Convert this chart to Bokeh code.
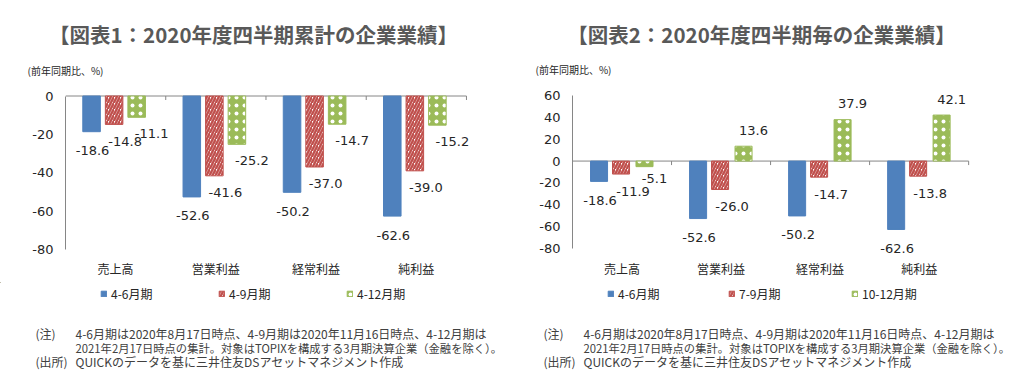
from bokeh.plotting import figure
from bokeh.layouts import row, column
from bokeh.models import Range1d, FixedTicker, Legend, LegendItem
from bokeh.core.properties import value
from bokeh.embed import file_html
from bokeh.resources import INLINE

# ---------------- data ----------------
categories = ["売上高", "営業利益", "経常利益", "純利益"]

c1_title = "【図表1：2020年度四半期累計の企業業績】"
c1_series = ["4-6月期", "4-9月期", "4-12月期"]
c1_q1 = [-18.6, -52.6, -50.2, -62.6]
c1_h1 = [-14.8, -41.6, -37.0, -39.0]
c1_q3 = [-11.1, -25.2, -14.7, -15.2]
c1_yticks = [0, -20, -40, -60, -80]

c2_title = "【図表2：2020年度四半期毎の企業業績】"
c2_series = ["4-6月期", "7-9月期", "10-12月期"]
c2_q1 = [-18.6, -52.6, -50.2, -62.6]
c2_q2 = [-11.9, -26.0, -14.7, -13.8]
c2_q3 = [-5.1, 13.6, 37.9, 42.1]
c2_yticks = [60, 40, 20, 0, -20, -40, -60, -80]

unit_label = "(前年同期比、%)"
note_head = "(注)"
note_line1 = "4-6月期は2020年8月17日時点、4-9月期は2020年11月16日時点、4-12月期は"
note_line2 = "2021年2月17日時点の集計。対象はTOPIXを構成する3月期決算企業（金融を除く）。"
source_head = "(出所)"
source_line = "QUICKのデータを基に三井住友DSアセットマネジメント作成"

# ---------------- style ----------------
W = 1015
H = 377
HEAD_H = 85
FOOT_TOP = 282
FRAME_TOP = 89       # canvas y of both plot frames' top edge
FRAME_BOT = 255      # canvas y of both plot frames' bottom edge
XPAD = 0.15          # extra x room right of the last category (keeps labels unclipped)
JP = "Noto Sans CJK JP"
NUM = "DejaVu Sans"
BLUE = "#4f81bd"
RED = "#c0504d"
GREEN = "#9bbb59"
AXIS = "#868686"
TXT = "#262626"
NOTE = "#404040"

STYLES = [
    dict(fill_color=BLUE, line_color=BLUE),
    dict(fill_color="white", line_color=RED, hatch_pattern="/", hatch_color=RED,
         hatch_scale=6, hatch_weight=2.4),
    dict(fill_color=GREEN, line_color=GREEN, hatch_pattern=".", hatch_color="white",
         hatch_scale=8, hatch_weight=1.0),
]


def blank(width, height, y0, y1):
    p = figure(width=width, height=height, output_backend="svg", toolbar_location=None,
               x_range=Range1d(0, width), y_range=Range1d(y1, y0),
               x_axis_type=None, y_axis_type=None, min_border=0)
    p.outline_line_color = None
    p.grid.visible = False
    return p


def make_chart(width, left, frame_right, ytop_val, ytop_px, ybot_val, ybot_px, yticks,
               series_vals, offsets, bar_w, lab_dx, lab_dy, tick_len):
    n = len(categories)
    # value range chosen so that ytop_val sits at canvas ytop_px and ybot_val at ybot_px
    k = (ybot_px - ytop_px) / (ytop_val - ybot_val)
    ymax = ytop_val + (ytop_px - FRAME_TOP) / k
    ymin = ybot_val - (FRAME_BOT - ybot_px) / k
    kx = (frame_right - left) / n
    right = width - frame_right - int(round(XPAD * kx))
    p = figure(width=width, height=FOOT_TOP - HEAD_H, output_backend="svg",
               toolbar_location=None,
               x_range=Range1d(0, n + XPAD), y_range=Range1d(ymin, ymax),
               min_border_left=left, min_border_right=right,
               min_border_top=FRAME_TOP - HEAD_H, min_border_bottom=FOOT_TOP - FRAME_BOT)
    p.outline_line_color = None
    p.grid.visible = False

    p.yaxis.ticker = FixedTicker(ticks=yticks)
    p.yaxis.major_label_overrides = {t: str(t) for t in yticks}
    p.yaxis.bounds = (ybot_val, ytop_val)
    p.yaxis.axis_line_color = AXIS
    p.yaxis.major_tick_line_color = None
    p.yaxis.minor_tick_line_color = None
    p.yaxis.major_tick_out = 0
    p.yaxis.major_tick_in = 0
    p.yaxis.major_label_standoff = 12
    p.yaxis.major_label_text_font = NUM
    p.yaxis.major_label_text_font_size = "13px"
    p.yaxis.major_label_text_color = TXT

    p.xaxis.ticker = FixedTicker(ticks=[i + 0.5 for i in range(n)])
    p.xaxis.major_label_overrides = {i + 0.5: c for i, c in enumerate(categories)}
    p.xaxis.axis_line_color = None
    p.xaxis.major_tick_line_color = None
    p.xaxis.minor_tick_line_color = None
    p.xaxis.major_tick_out = 0
    p.xaxis.major_tick_in = 0
    p.xaxis.major_label_standoff = 4
    p.xaxis.major_label_text_font = JP
    p.xaxis.major_label_text_font_size = "12px"
    p.xaxis.major_label_text_color = TXT

    p.segment(x0=[0], y0=[0], x1=[n], y1=[0], line_color=AXIS, line_width=1)
    p.segment(x0=list(range(1, n + 1)), y0=[0] * n, x1=list(range(1, n + 1)),
              y1=[-tick_len / k] * n, line_color=AXIS, line_width=1)

    for j, vals in enumerate(series_vals):
        xs = [i + 0.5 + offsets[j] for i in range(n)]
        p.vbar(x=xs, top=vals, bottom=0, width=bar_w, **STYLES[j])
        dys = [(-lab_dy[j][1] if v > 0 else lab_dy[j][0]) for v in vals]
        p.text(x=xs, y=vals, text=[f"{v:.1f}" for v in vals], x_offset=lab_dx[j],
               y_offset=dys, text_align="center", text_baseline="middle",
               text_font=value(NUM), text_font_size="13px", text_color=TXT)
    return p


# ---------------- charts ----------------
p1 = make_chart(width=507, left=65, frame_right=466,
                ytop_val=0, ytop_px=95.5, ybot_val=-80, ybot_px=249, yticks=c1_yticks,
                series_vals=[c1_q1, c1_h1, c1_q3],
                offsets=[-0.24, -0.015, 0.21], bar_w=0.175,
                lab_dx=[1, 11, 15], lab_dy=[(19, 16), (17, 16), (16, 16)],
                tick_len=4)

p2 = make_chart(width=508, left=65, frame_right=461,
                ytop_val=60, ytop_px=95, ybot_val=-80, ybot_px=248, yticks=c2_yticks,
                series_vals=[c2_q1, c2_q2, c2_q3],
                offsets=[-0.232, -0.01, 0.227], bar_w=0.172,
                lab_dx=[1, 12, 10], lab_dy=[(19, 16), (17, 16), (12, 16)],
                tick_len=4)

# ---------------- header ----------------
head = blank(W, HEAD_H, 0, HEAD_H)
head.text(x=[253, 761], y=[33, 33], text=[c1_title, c2_title], text_align="center",
          text_baseline="middle", text_font=value(JP), text_font_size="20.5px",
          text_font_style="bold", text_color="#595959")
head.text(x=[27, 535], y=[70, 69], text=[unit_label, unit_label], text_align="left",
          text_baseline="middle", text_font=value(JP), text_font_size="10px",
          text_color=TXT)

# ---------------- footer ----------------
foot = blank(W, H - FOOT_TOP, FOOT_TOP, H)
for bx in (0, 508):
    foot.text(x=[bx + 35, bx + 35], y=[333, 361], text=[note_head, source_head],
              text_align="left", text_baseline="middle", text_font=value(JP),
              text_font_size="12px", text_color=NOTE)
    foot.text(x=[bx + 75, bx + 75], y=[333, 361], text=[note_line1, source_line],
              text_align="left", text_baseline="middle", text_font=value(JP),
              text_font_size="12px", text_color=NOTE)
    foot.text(x=[bx + 75], y=[347], text=[note_line2], text_align="left",
              text_baseline="middle", text_font=value(JP), text_font_size="11.3px",
              text_color=NOTE)

# hidden holders for the legend swatches (placed far outside the visible range)
swatches = [foot.vbar(x=[-5000], top=[FOOT_TOP], bottom=[FOOT_TOP], width=1, **s)
            for s in STYLES]
legend_pos = [(c1_series, [100, 218, 346]), (c2_series, [607, 728, 851])]
for names, xs in legend_pos:
    for j, name in enumerate(names):
        leg = Legend(items=[LegendItem(label=name, renderers=[swatches[j]])],
                     location=(xs[j], H - 302), orientation="horizontal",
                     glyph_width=7, glyph_height=7, label_standoff=4, padding=0,
                     margin=0, spacing=0, background_fill_alpha=0,
                     border_line_color=None, label_text_font=JP,
                     label_text_font_size="12px", label_text_color=TXT,
                     label_height=14)
        foot.add_layout(leg, "center")

layout = column(head, row(p1, p2, spacing=0), foot, spacing=0)
open("out.html", "w").write(file_html(layout, INLINE))
